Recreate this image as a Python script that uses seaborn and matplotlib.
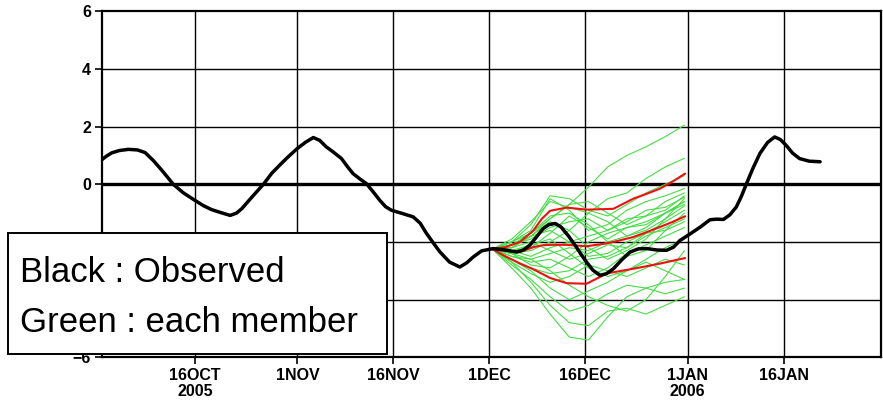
import matplotlib
matplotlib.use("Agg")
import matplotlib.pyplot as plt
from matplotlib.patches import Rectangle
import pandas as pd
import seaborn as sns

# ---- data (x in days since 1 Oct 2005) ----
obs_day = [0.5, 1.2, 2.0, 3.2, 4.6, 6.0, 7.2, 8.5, 9.8, 10.8, 11.6, 13.2, 15.0, 16.3, 17.6,
           19.0, 20.5, 21.5, 22.3, 24.0, 25.7, 27.0, 28.5, 29.8, 31.0, 32.3, 33.5, 34.5, 35.5,
           36.6, 37.9, 38.8, 39.7, 40.8, 41.8, 42.8, 43.9, 44.8, 45.7, 47.5, 49.1, 50.2, 51.2,
           52.3, 53.3, 54.8, 56.4, 57.5, 58.5, 59.8, 61.6, 63.5, 65.3, 66.3, 67.3, 68.4, 69.4,
           70.3, 71.3, 72.2, 73.4, 74.6, 75.4, 76.2, 77.2, 78.3, 79.3, 80.4, 81.7, 83.0, 84.3,
           85.6, 87.2, 88.7, 89.8, 90.8, 92.4, 94.0, 95.5, 96.5, 97.6, 98.6, 99.6, 100.4, 101.2,
           102.2, 103.3, 104.5, 105.6, 106.5, 107.4, 108.4, 109.5, 111.0, 112.7]
obs_val = [0.86, 0.98, 1.09, 1.17, 1.21, 1.19, 1.10, 0.82, 0.49, 0.22, 0.00, -0.30, -0.56, -0.74, -0.88,
           -0.98, -1.08, -1.00, -0.85, -0.42, 0.00, 0.38, 0.72, 1.00, 1.24, 1.46, 1.62, 1.52, 1.30,
           1.12, 0.89, 0.62, 0.37, 0.18, 0.02, -0.25, -0.56, -0.78, -0.90, -1.02, -1.13, -1.35, -1.71,
           -2.05, -2.35, -2.70, -2.87, -2.72, -2.52, -2.31, -2.23, -2.28, -2.35, -2.28, -2.12, -1.82, -1.54,
           -1.40, -1.36, -1.48, -1.80, -2.18, -2.45, -2.70, -2.98, -3.16, -3.10, -2.93, -2.62, -2.35, -2.24,
           -2.23, -2.28, -2.29, -2.18, -1.95, -1.72, -1.48, -1.23, -1.21, -1.22, -1.06, -0.79, -0.42, 0.02,
           0.55, 1.07, 1.45, 1.64, 1.55, 1.35, 1.08, 0.89, 0.80, 0.78]

member_day = [61.5, 64.5, 67.5, 70.5, 73.5, 76.5, 79.5, 82.5, 85.5, 88.5, 91.5]
members = [
    [-2.25, -2.1, -1.7, -1.2, -0.7, -0.1, 0.6, 1.0, 1.3, 1.65, 2.05],
    [-2.25, -1.9, -1.3, -0.6, -0.8, -1.0, -0.5, -0.3, 0.2, 0.6, 0.9],
    [-2.25, -2.0, -1.4, -0.4, -0.5, -0.9, -1.1, -0.7, -0.3, 0.0, 0.3],
    [-2.25, -2.0, -1.6, -0.5, -0.9, -1.6, -1.4, -0.9, -0.6, -0.4, -0.15],
    [-2.25, -2.2, -1.8, -1.2, -0.7, -0.6, -1.0, -1.4, -1.1, -0.6, -0.3],
    [-2.25, -2.1, -1.9, -1.5, -1.3, -1.2, -1.6, -1.3, -0.9, -0.8, -0.45],
    [-2.25, -2.3, -2.2, -1.7, -1.1, -1.5, -1.9, -1.5, -1.4, -1.0, -0.6],
    [-2.25, -2.4, -2.3, -2.0, -1.6, -1.0, -1.3, -1.8, -1.6, -1.2, -0.75],
    [-2.25, -2.3, -2.5, -2.2, -2.0, -1.8, -1.6, -1.2, -1.1, -0.9, -0.4],
    [-2.25, -2.5, -2.6, -2.4, -2.2, -2.3, -2.0, -1.8, -1.5, -1.0, -0.6],
    [-2.25, -2.2, -2.0, -2.3, -2.6, -2.4, -2.1, -2.2, -1.7, -1.3, -0.9],
    [-2.25, -2.4, -2.8, -2.9, -2.5, -2.0, -1.7, -1.5, -1.3, -1.0, -0.7],
    [-2.25, -2.6, -2.9, -3.1, -3.0, -2.6, -2.5, -2.2, -1.8, -1.5, -1.2],
    [-2.25, -2.5, -2.7, -2.6, -2.9, -3.2, -2.9, -2.4, -2.1, -1.8, -1.5],
    [-2.25, -2.7, -3.1, -3.4, -3.2, -2.8, -3.0, -3.2, -2.9, -2.6, -2.8],
    [-2.25, -2.6, -3.0, -3.6, -4.0, -3.7, -3.4, -3.0, -2.6, -2.2, -1.9],
    [-2.25, -2.8, -3.3, -3.9, -4.4, -4.2, -3.8, -3.5, -3.6, -3.4, -3.3],
    [-2.25, -2.9, -3.6, -4.5, -5.3, -5.4, -4.6, -3.9, -3.6, -3.8, -3.6],
    [-2.25, -2.7, -3.4, -4.2, -4.8, -4.9, -4.4, -4.3, -4.5, -4.2, -3.9],
    [-2.25, -2.4, -2.6, -3.0, -3.5, -3.9, -4.2, -4.4, -4.0, -3.2, -2.3],
    [-2.25, -2.2, -1.8, -1.3, -1.6, -2.2, -2.6, -2.3, -1.9, -1.2, -0.5],
    [-2.25, -2.0, -1.7, -1.1, -1.0, -1.4, -2.0, -2.5, -2.3, -1.6, -1.0],
    [-2.25, -2.3, -2.1, -1.9, -2.4, -2.9, -3.2, -3.0, -2.7, -3.0, -3.3],
    [-2.25, -2.1, -1.8, -1.6, -2.0, -2.5, -2.4, -2.0, -1.7, -1.6, -1.3],
]

red_day = [61.5, 63.5, 65.8, 67.9, 69.2, 70.5, 73.1, 76.2, 79.3, 80.4, 83.5, 85.6, 87.7, 89.7, 91.6]
red_upper = [-2.25, -2.18, -2.00, -1.60, -1.20, -0.92, -0.81, -0.88, -0.86, -0.85, -0.50,
             -0.33, -0.15, 0.10, 0.37]
red_mean = [-2.25, -2.30, -2.35, -2.18, -2.12, -2.10, -2.10, -2.15, -2.05, -2.00, -1.83,
            -1.66, -1.48, -1.30, -1.11]
red_lower = [-2.25, -2.50, -2.75, -2.95, -3.10, -3.25, -3.43, -3.45, -3.10, -3.05, -2.93,
             -2.84, -2.75, -2.65, -2.56]

y_ticks = [-6, -4, -2, 0, 2, 4, 6]
y_tick_labels = ["\u22126", "", "", "0", "2", "4", "6"]
x_tick_days = [15, 31, 46, 61, 76, 92, 107]
x_tick_labels = ["16OCT\n2005", "1NOV", "16NOV", "1DEC", "16DEC", "1JAN\n2006", "16JAN"]

# ---- figure ----
sns.set_theme(style="white")
plt.rcParams["font.family"] = ["Liberation Sans", "DejaVu Sans"]

W, H = 883, 404
fig = plt.figure(figsize=(W / 100, H / 100), dpi=100)
ax_l, ax_r, ax_t, ax_b = 102, 881.5, 11.2, 357.3
ax = fig.add_axes([ax_l / W, 1 - ax_b / H, (ax_r - ax_l) / W, (ax_b - ax_t) / H])

# grid and zero line
for yv in y_ticks:
    if yv not in (-6, 6):
        ax.axhline(yv, color="black", lw=2.4 if yv == 0 else 1.0, zorder=1)
for xv in x_tick_days:
    ax.axvline(xv, color="black", lw=1.0, zorder=1)

# ensemble members
mem_df = pd.DataFrame(
    [(i, d, v) for i, row in enumerate(members) for d, v in zip(member_day, row)],
    columns=["member", "day", "value"],
)
sns.lineplot(data=mem_df, x="day", y="value", units="member", estimator=None,
             color="#46dc46", lw=0.8, ax=ax, zorder=2, legend=False)

# red summary curves
for series in (red_upper, red_mean, red_lower):
    sns.lineplot(x=red_day, y=series, color="#f01010", lw=1.5, ax=ax, zorder=3)

# observed
sns.lineplot(x=obs_day, y=obs_val, color="black", lw=2.5, ax=ax, zorder=4, sort=False)

ax.set_xlim(0.47, 122.3)
ax.set_ylim(-6, 6)
ax.set_yticks(y_ticks)
ax.set_yticklabels(y_tick_labels)
ax.set_xticks(x_tick_days)
ax.set_xticklabels(x_tick_labels, linespacing=1.05)
ax.set_xlabel("")
ax.set_ylabel("")
ax.tick_params(axis="both", which="major", direction="out", length=5, width=1.2,
               color="black", labelsize=11.5, pad=3, left=True, bottom=True)
for lbl in ax.get_xticklabels() + ax.get_yticklabels():
    lbl.set_fontweight("bold")
    lbl.set_color("black")
for sp in ax.spines.values():
    sp.set_color("black")
    sp.set_linewidth(1.6)

# caption box
box = Rectangle((8 / W, 1 - 353.5 / H), (387 - 8) / W, (353.5 - 233.3) / H,
                transform=fig.transFigure, facecolor="white", edgecolor="black",
                lw=1.4, zorder=10)
fig.patches.append(box)
fig.text(20 / W, 1 - 282 / H, "Black : Observed", fontsize=25, color="black",
         va="baseline", ha="left", zorder=11)
fig.text(20 / W, 1 - 332 / H, "Green : each member", fontsize=25, color="black",
         va="baseline", ha="left", zorder=11)

fig.savefig("out.png", dpi=100)
